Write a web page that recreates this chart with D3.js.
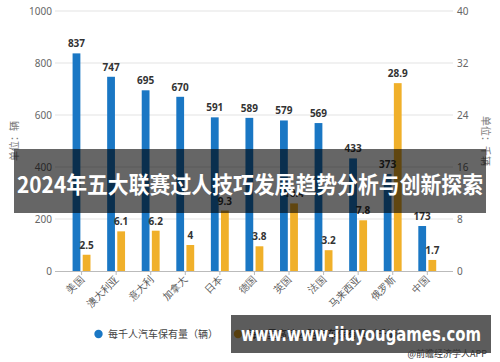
<!DOCTYPE html>
<html>
<head>
<meta charset="utf-8">
<title>每千人汽车保有量</title>
<script src="https://cdn.jsdelivr.net/npm/d3@7"></script>
<style>
  body { margin: 0; background: #fff; }
  svg { display: block; font-family: "Noto Sans CJK SC", "Noto Sans", sans-serif; }
</style>
</head>
<body>
<div id="chart"></div>
<script>
  var countries = ["美国", "澳大利亚", "意大利", "加拿大", "日本", "德国", "英国", "法国", "马来西亚", "俄罗斯", "中国"];
  var carsPerThousand = [837, 747, 695, 670, 591, 589, 579, 569, 433, 373, 173];
  var carsPerKm = [2.5, 6.1, 6.2, 4, 9.3, 3.8, 10.4, 3.2, 7.8, 28.9, 1.7];
  var leftTicks = [0, 200, 400, 600, 800, 1000];
  var rightTicks = [0, 8, 16, 24, 32, 40];
  var legendNames = ["每千人汽车保有量（辆）", "每公里高速公路汽车保有量（千辆）"];

  var width = 500, height = 362;
  var blue = "#1a77c4", gold = "#f0b02a";

  var svg = d3.select("#chart").append("svg")
    .attr("width", width).attr("height", height);

  var x = d3.scaleBand().domain(countries).range([64.3, 444.6]).padding(0);
  var sub = d3.scaleBand().domain(["a", "b"])
    .range([x.bandwidth() / 2 - 9, x.bandwidth() / 2 + 8.9]).paddingInner(0.23);
  var yL = d3.scaleLinear().domain([0, 1000]).range([271, 11]);
  var yR = d3.scaleLinear().domain([0, 40]).range([271, 11]);

  // grid
  svg.append("g").selectAll("line").data(leftTicks.slice(1)).enter().append("line")
    .attr("x1", 55).attr("x2", 453)
    .attr("y1", function(d){ return yL(d); }).attr("y2", function(d){ return yL(d); })
    .attr("stroke", "#e3e3e3").attr("stroke-width", 1);

  // left / right axis labels
  var gl = svg.append("g").attr("transform", "translate(52,0)")
    .call(d3.axisLeft(yL).tickValues(leftTicks).tickFormat(d3.format("d")).tickSize(0).tickPadding(0));
  gl.select(".domain").remove();
  gl.selectAll("text").attr("fill", "#666").style("font-size", "10px")
    .style("font-family", "'Noto Sans', sans-serif");

  var gr = svg.append("g").attr("transform", "translate(457,0)")
    .call(d3.axisRight(yR).tickValues(rightTicks).tickFormat(d3.format("d")).tickSize(0).tickPadding(0));
  gr.select(".domain").remove();
  gr.selectAll("text").attr("fill", "#666").style("font-size", "10px")
    .style("font-family", "'Noto Sans', sans-serif");

  // x axis
  var gx = svg.append("g").attr("transform", "translate(0,271)")
    .call(d3.axisBottom(x).tickSize(4).tickSizeOuter(0).tickPadding(0));
  gx.select(".domain").attr("d", "M55,0.5H453").attr("stroke", "#bbb");
  gx.selectAll(".tick line").attr("stroke", "#bbb");
  gx.selectAll("text")
    .attr("fill", "#555").style("font-size", "10px")
    .attr("text-anchor", "end").attr("dy", 0).attr("y", 0)
    .attr("transform", "translate(3,9) rotate(-45)");

  // bars
  var groups = svg.append("g").selectAll("g").data(countries).enter().append("g")
    .attr("transform", function(d){ return "translate(" + x(d) + ",0)"; });

  groups.append("rect")
    .attr("x", sub("a")).attr("width", sub.bandwidth())
    .attr("y", function(d, i){ return yL(carsPerThousand[i]); })
    .attr("height", function(d, i){ return 271 - yL(carsPerThousand[i]); })
    .attr("fill", blue);
  groups.append("rect")
    .attr("x", sub("b")).attr("width", sub.bandwidth())
    .attr("y", function(d, i){ return yR(carsPerKm[i]); })
    .attr("height", function(d, i){ return 271 - yR(carsPerKm[i]); })
    .attr("fill", gold);

  groups.append("text")
    .attr("x", sub("a") + sub.bandwidth() / 2)
    .attr("y", function(d, i){ return yL(carsPerThousand[i]) - 6; })
    .attr("text-anchor", "middle").attr("fill", "#333")
    .style("font-size", "10px").style("font-weight", "bold")
    .style("font-family", "'Noto Sans', sans-serif")
    .text(function(d, i){ return carsPerThousand[i]; });
  groups.append("text")
    .attr("x", sub("b") + sub.bandwidth() / 2)
    .attr("y", function(d, i){ return yR(carsPerKm[i]) - 6; })
    .attr("text-anchor", "middle").attr("fill", "#333")
    .style("font-size", "10px").style("font-weight", "bold")
    .style("font-family", "'Noto Sans', sans-serif")
    .text(function(d, i){ return carsPerKm[i]; });

  // axis titles
  svg.append("text").attr("transform", "translate(18,141) rotate(-90)")
    .attr("text-anchor", "middle").attr("fill", "#777").style("font-size", "10px")
    .text("单位：辆");
  svg.append("text").attr("transform", "translate(482,141) rotate(90)")
    .attr("text-anchor", "middle").attr("fill", "#777").style("font-size", "10px")
    .text("单位：千辆");

  // legend
  var lg = svg.append("g");
  lg.append("circle").attr("cx", 98.5).attr("cy", 334).attr("r", 4.2).attr("fill", blue);
  lg.append("text").attr("x", 108).attr("y", 337.5).attr("fill", "#444")
    .style("font-size", "10px").text(legendNames[0]);
  lg.append("circle").attr("cx", 238).attr("cy", 334).attr("r", 4.2).attr("fill", gold);
  lg.append("text").attr("x", 247).attr("y", 337.5).attr("fill", "#444")
    .style("font-size", "10px").text(legendNames[1]);

  // overlays
  svg.append("rect").attr("x", 14).attr("y", 149).attr("width", 472).attr("height", 64)
    .attr("fill", "rgba(0,0,0,0.6)");
  svg.append("text").attr("x", 250).attr("y", 192.5).attr("text-anchor", "middle")
    .attr("fill", "#fff").style("font-size", "22.5px").style("font-weight", "bold")
    .attr("textLength", 466).attr("lengthAdjust", "spacingAndGlyphs")
    .text("2024年五大联赛过人技巧发展趋势分析与创新探索");

  svg.append("rect").attr("x", 231).attr("y", 315).attr("width", 260).attr("height", 38)
    .attr("fill", "rgba(0,0,0,0.64)");
  svg.append("text").attr("x", 361).attr("y", 341).attr("text-anchor", "middle")
    .attr("fill", "#fff").style("font-size", "20px").style("font-weight", "bold")
    .style("font-family", "'DejaVu Sans', sans-serif")
    .attr("textLength", 240).attr("lengthAdjust", "spacingAndGlyphs")
    .text("www.www-jiuyougames.com");

  svg.append("text").attr("x", 487).attr("y", 357).attr("text-anchor", "end")
    .attr("fill", "#333").style("font-size", "9px")
    .text("@前瞻经济学人APP");
</script>
</body>
</html>
